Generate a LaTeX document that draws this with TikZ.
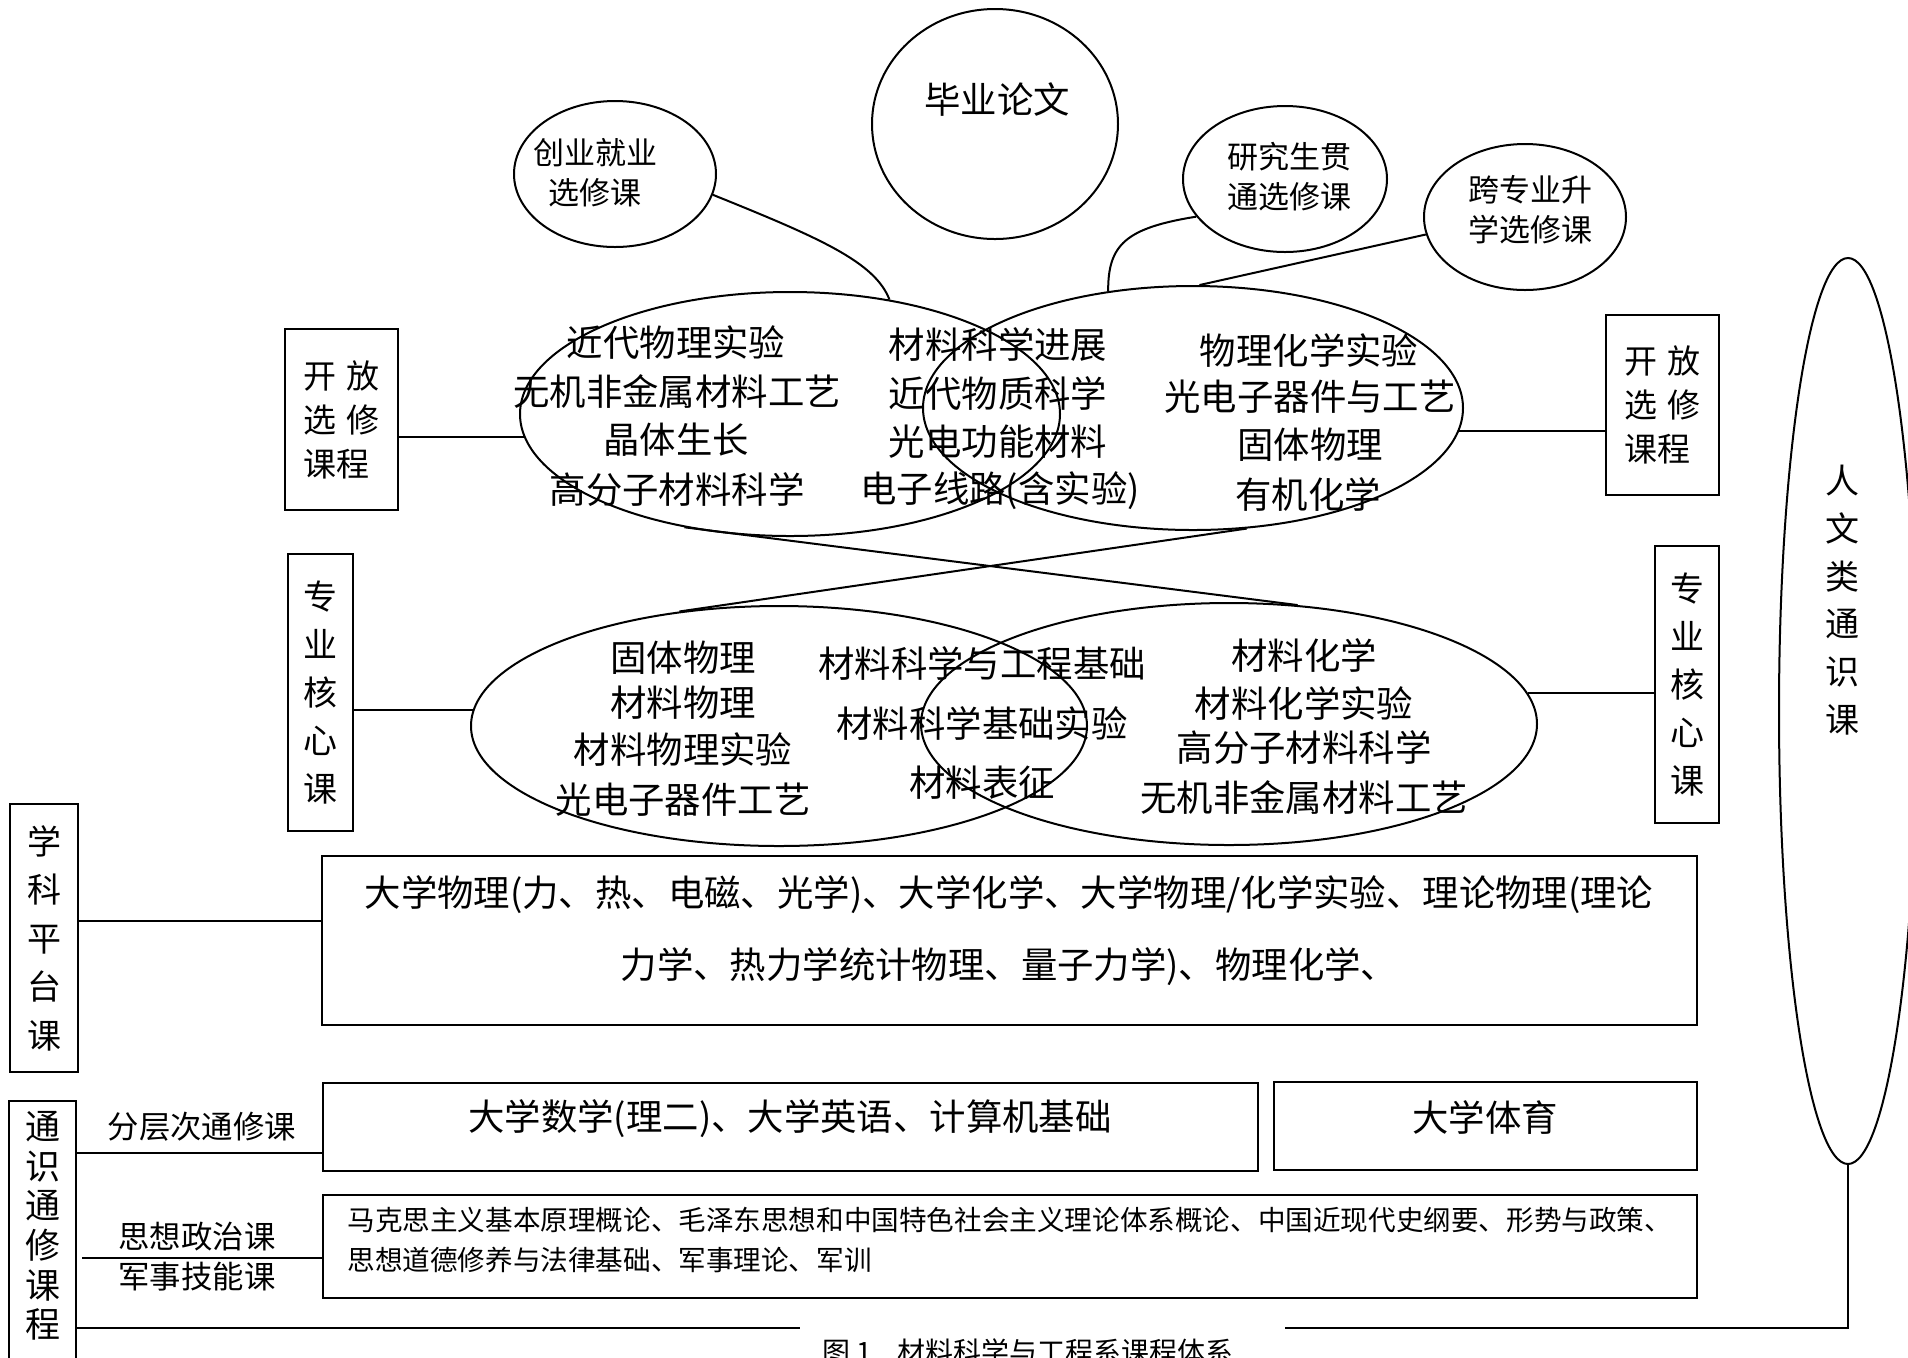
\documentclass[tikz,border=0pt]{standalone}
\usepackage{fontspec}
\newfontfamily\cjk{Noto Sans CJK SC}
\usetikzlibrary{shapes.geometric}
\tikzset{
 ln/.style={line width=1pt},
 ell/.style={draw, ellipse, inner sep=0pt, line width=1pt},
 bx/.style={draw, rectangle, inner sep=0pt, line width=1pt},
 tb/.style={inner sep=0pt, font=\cjk\fontsize{18.2}{22}\selectfont},
 ts/.style={inner sep=0pt, font=\cjk\fontsize{15.7}{20}\selectfont},
}
\begin{document}
\begin{tikzpicture}[x=0.5pt,y=-0.5pt]
\useasboundingbox (0,0) rectangle (1908,1357);
\clip (0,0) rectangle (1908,1357);

% top ellipses
\node[ell, minimum width=123pt, minimum height=115pt] (th) at (995,124) {};
\node[tb] (tht) at (997,100) {毕业论文};
\node[ell, minimum width=101pt, minimum height=73pt] (cy) at (615,174) {};
\node[inner sep=0pt, align=center, font=\cjk\fontsize{15.5}{20}\selectfont] (cyt) at (595,173) {创业就业\\选修课};
\node[ell, minimum width=102pt, minimum height=73pt] (yj) at (1285,179) {};
\node[inner sep=0pt, align=center, font=\cjk\fontsize{15.5}{20}\selectfont] (yjt) at (1289,177) {研究生贯\\通选修课};
\node[ell, minimum width=101pt, minimum height=73pt] (kz) at (1525,217) {};
\node[inner sep=0pt, align=center, font=\cjk\fontsize{15.5}{20}\selectfont] (kzt) at (1530,210) {跨专业升\\学选修课};

% upper venn
\node[ell, minimum width=270pt, minimum height=122pt] (UL) at (790,414) {};
\node[ell, minimum width=270pt, minimum height=122pt] (UR) at (1193,408) {};
\node[tb] (u1) at (676,343) {近代物理实验};
\node[tb] (u2) at (677,392) {无机非金属材料工艺};
\node[tb] (u3) at (676,440) {晶体生长};
\node[tb] (u4) at (677,490) {高分子材料科学};
\node[tb] (u5) at (998,345) {材料科学进展};
\node[tb] (u6) at (998,394) {近代物质科学};
\node[tb] (u7) at (998,442) {光电功能材料};
\node[tb] (u8) at (1000,491) {电子线路(含实验)};
\node[tb] (u9) at (1309,350) {物理化学实验};
\node[tb] (u10) at (1310,397) {光电子器件与工艺};
\node[tb] (u11) at (1310,445) {固体物理};
\node[tb] (u12) at (1308,494) {有机化学};

% lower venn
\node[ell, minimum width=308pt, minimum height=120pt] (LL) at (779,726) {};
\node[ell, minimum width=308pt, minimum height=121pt] (LR) at (1229,724) {};
\node[tb] (d1) at (683,658) {固体物理};
\node[tb] (d2) at (683,703) {材料物理};
\node[tb] (d3) at (683,750) {材料物理实验};
\node[tb] (d4) at (683,800) {光电子器件工艺};
\node[tb] (d5) at (982,663) {材料科学与工程基础};
\node[tb] (d6) at (982,723) {材料科学基础实验};
\node[tb] (d7) at (982,783) {材料表征};
\node[tb] (d8) at (1304,655) {材料化学};
\node[tb] (d9) at (1304,703) {材料化学实验};
\node[tb] (d10) at (1304,748) {高分子材料科学};
\node[tb] (d11) at (1304,798) {无机非金属材料工艺};

% side boxes
\node[bx, minimum width=56.5pt, minimum height=90.5pt, align=left, font=\cjk\fontsize{16.5}{22}\selectfont] (lopen) at (341.5,419.5) {开\hspace{5pt}放\\选\hspace{5pt}修\\课程};
\node[bx, minimum width=56.5pt, minimum height=90pt, align=left, font=\cjk\fontsize{16.5}{22}\selectfont] (ropen) at (1662.5,405) {开\hspace{5pt}放\\选\hspace{5pt}修\\课程};
\node[bx, minimum width=32.5pt, minimum height=138.5pt, align=center, font=\cjk\fontsize{17}{24.1}\selectfont] (lcore) at (320.5,692.5) {专\\业\\核\\心\\课};
\node[bx, minimum width=32pt, minimum height=138.5pt, align=center, font=\cjk\fontsize{17}{23.9}\selectfont] (rcore) at (1687,684.5) {专\\业\\核\\心\\课};
\node[bx, minimum width=34pt, minimum height=134pt, align=center, font=\cjk\fontsize{17}{24.25}\selectfont] (xk) at (44,938) {学\\科\\平\\台\\课};
\node[bx, minimum width=33.5pt, minimum height=160pt] (tx) at (42.5,1261) {};
\node[inner sep=0pt, align=center, font=\cjk\fontsize{17.5}{19.8}\selectfont] (txt) at (43,1226) {通\\识\\通\\修\\课\\程};

% right tall ellipse
\node[ell, minimum width=69pt, minimum height=453pt] (rw) at (1848,711) {};
\node[inner sep=0pt, align=center, font=\cjk\fontsize{17}{23.9}\selectfont] (rwt) at (1842,600) {人\\文\\类\\通\\识\\课};

% bottom boxes
\node[bx, minimum width=687.5pt, minimum height=84.5pt] (plat) at (1009.5,940.5) {};
\node[inner sep=0pt, align=center, font=\cjk\fontsize{18.2}{36}\selectfont] (platt) at (1009,931) {大学物理(力、热、电磁、光学)、大学化学、大学物理/化学实验、理论物理(理论\\力学、热力学统计物理、量子力学)、物理化学、};
\node[bx, minimum width=467.5pt, minimum height=44pt] (fc) at (790.5,1127) {};
\node[tb] (fct) at (790,1119) {大学数学(理二)、大学英语、计算机基础};
\node[bx, minimum width=211.5pt, minimum height=44pt] (ty) at (1485.5,1126) {};
\node[tb] (tyt) at (1485,1118) {大学体育};
\node[bx, minimum width=687pt, minimum height=51.5pt] (sz) at (1010,1246.5) {};
\node[inner sep=0pt, anchor=west, align=left, font=\cjk\fontsize{13.8}{20}\selectfont] (szt) at (347,1240) {马克思主义基本原理概论、毛泽东思想和中国特色社会主义理论体系概论、中国近现代史纲要、形势与政策、\\思想道德修养与法律基础、军事理论、军训};

% labels
\node[ts] (lb1) at (202,1127) {分层次通修课};
\node[ts] (lb2) at (197,1237) {思想政治课};
\node[ts] (lb3) at (197,1277) {军事技能课};
\node[inner sep=0pt, font=\cjk\fontsize{14}{16}\selectfont] (cap) at (1028,1352) {图 1\hspace{0.9em}材料科学与工程系课程体系};

% connectors
\draw[ln] (cy.348) .. controls (820,238) and (875,262) .. (UL.49);
\draw[ln] (yj.203) .. controls (1125,228) and (1108,245) .. (UR.126);
\draw[ln] (kz.190) -- (UR.87);
\draw[ln] (UL.227) -- (LR.60);
\draw[ln] (LL.131) -- (UR.294);
\draw[ln] (lopen.east |- UL.185) -- (UL.185);
\draw[ln] (UR.355) -- (ropen.west |- UR.355);
\draw[ln] (lcore.east |- LL.177) -- (LL.177);
\draw[ln] (LR.6) -- (rcore.west |- LR.6);
\draw[ln] (xk.east |- 0,921) -- (plat.west |- 0,921);
\draw[ln] (tx.east |- 0,1153) -- (fc.west |- 0,1153);
\coordinate (szl) at (82,1258);
\draw[ln] (szl) -- (sz.west |- szl);
\coordinate (bl1) at (800,1328);
\coordinate (bl2) at (1285,1328);
\draw[ln] (tx.east |- bl1) -- (bl1);
\draw[ln] (bl2) -- (rw.south |- bl2) -- (rw.south);
\end{tikzpicture}
\end{document}
